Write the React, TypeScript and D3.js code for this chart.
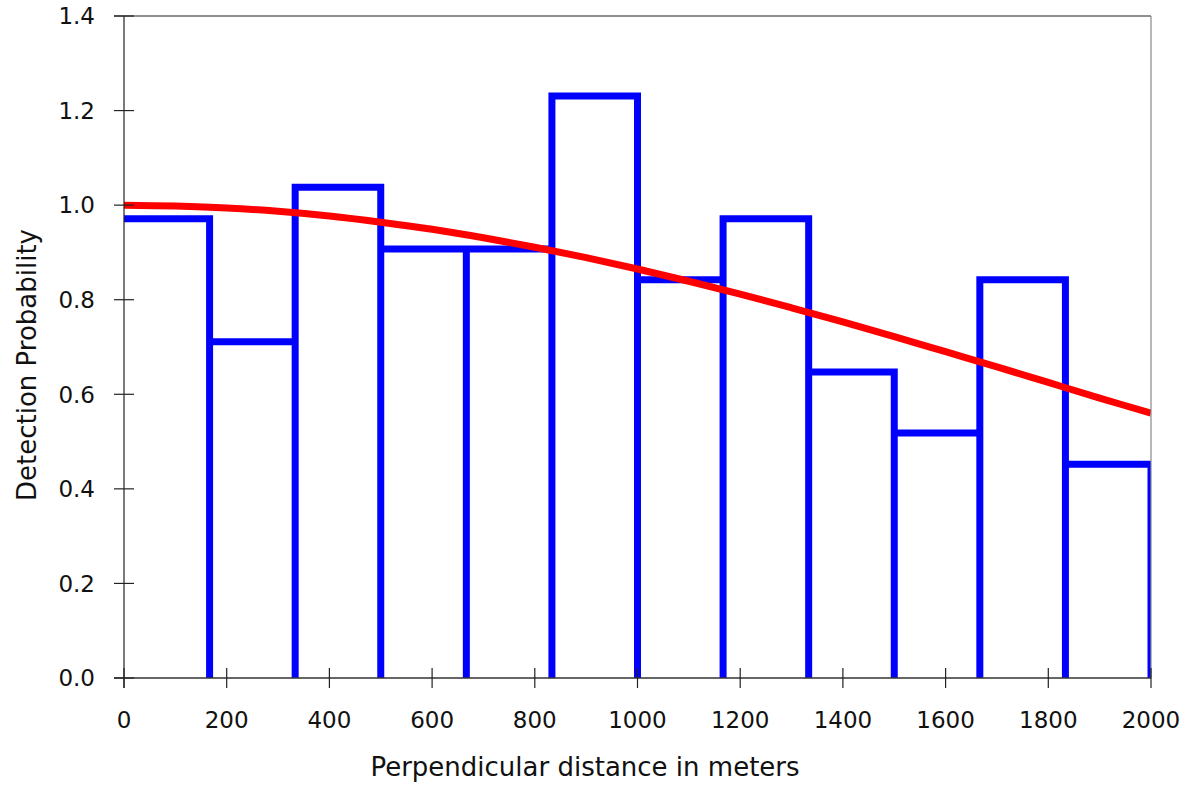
import React from "react";
import * as d3 from "d3";

const binEdges = [0, 166.67, 333.33, 500, 666.67, 833.33, 1000, 1166.67, 1333.33, 1500, 1666.67, 1833.33, 2000];
const binValues = [0.971, 0.711, 1.038, 0.907, 0.907, 1.231, 0.842, 0.971, 0.647, 0.518, 0.842, 0.452];
const curveX = [0, 100, 200, 300, 400, 500, 600, 700, 800, 900, 1000, 1100, 1200, 1300, 1400, 1500, 1600, 1700, 1800, 1900, 2000];
const curveY = [1.0, 0.998, 0.994, 0.987, 0.977, 0.964, 0.949, 0.931, 0.911, 0.889, 0.865, 0.839, 0.812, 0.783, 0.753, 0.722, 0.69, 0.658, 0.625, 0.592, 0.56];
const xTicks = [0, 200, 400, 600, 800, 1000, 1200, 1400, 1600, 1800, 2000];
const yTicks = [0, 0.2, 0.4, 0.6, 0.8, 1.0, 1.2, 1.4];

const W = 1190, H = 789;
const L = 124, R = 1151, T = 16, B = 678;
const FONT = "DejaVu Sans, Verdana, sans-serif";

export default function App() {
  const x = d3.scaleLinear().domain([0, 2000]).range([L, R]);
  const y = d3.scaleLinear().domain([0, 1.4]).range([B, T]);

  const barPath = binValues
    .map((v, i) => {
      const x0 = x(binEdges[i]), x1 = x(binEdges[i + 1]);
      const start = i === 0 ? `M${x0},${y(v)}` : `M${x0},${y(0)}L${x0},${y(v)}`;
      return `${start}L${x1},${y(v)}L${x1},${y(0)}`;
    })
    .join("");

  const line = d3
    .line<number>()
    .x((_, i) => x(curveX[i]))
    .y((d) => y(d))
    .curve(d3.curveCatmullRom);

  return (
    <svg width={W} height={H} style={{ position: "absolute", left: 0, top: 0, background: "#fff" }}>
      <defs>
        <clipPath id="plot">
          <rect x={L} y={T - 10} width={R - L} height={B - T + 10} />
        </clipPath>
      </defs>
      <g clipPath="url(#plot)">
        <path d={barPath} fill="none" stroke="#0000ff" strokeWidth={7} strokeLinejoin="miter" />
        <path d={line(curveY) || ""} fill="none" stroke="#ff0000" strokeWidth={7} />
      </g>
      {/* frame */}
      <line x1={L - 10} x2={R} y1={T} y2={T} stroke="#222" strokeWidth={1.2} />
      <line x1={R} x2={R} y1={T} y2={B} stroke="#888" strokeWidth={1.2} />
      <line x1={L} x2={L} y1={T} y2={B + 10} stroke="#222" strokeWidth={1.2} />
      <line x1={L - 10} x2={R} y1={B} y2={B} stroke="#333" strokeWidth={1.6} />
      {yTicks.map((t) => (
        <g key={"y" + t}>
          <line x1={L - 10} x2={L + 10} y1={y(t)} y2={y(t)} stroke="#222" strokeWidth={1.2} />
          <text x={95} y={y(t)} dy="0.36em" textAnchor="end" fontFamily={FONT} fontSize={23} fill="#111">
            {t.toFixed(1)}
          </text>
        </g>
      ))}
      {xTicks.map((t) => (
        <g key={"x" + t}>
          <line x1={x(t)} x2={x(t)} y1={B - 10} y2={B + 10} stroke="#222" strokeWidth={1.2} />
          <text x={x(t)} y={728} textAnchor="middle" fontFamily={FONT} fontSize={23} fill="#111">
            {t}
          </text>
        </g>
      ))}
      <text x={585} y={776} textAnchor="middle" fontFamily={FONT} fontSize={26} fill="#111">
        Perpendicular distance in meters
      </text>
      <text
        transform={`translate(36,365) rotate(-90)`}
        textAnchor="middle"
        fontFamily={FONT}
        fontSize={26}
        fill="#111"
      >
        Detection Probability
      </text>
    </svg>
  );
}
